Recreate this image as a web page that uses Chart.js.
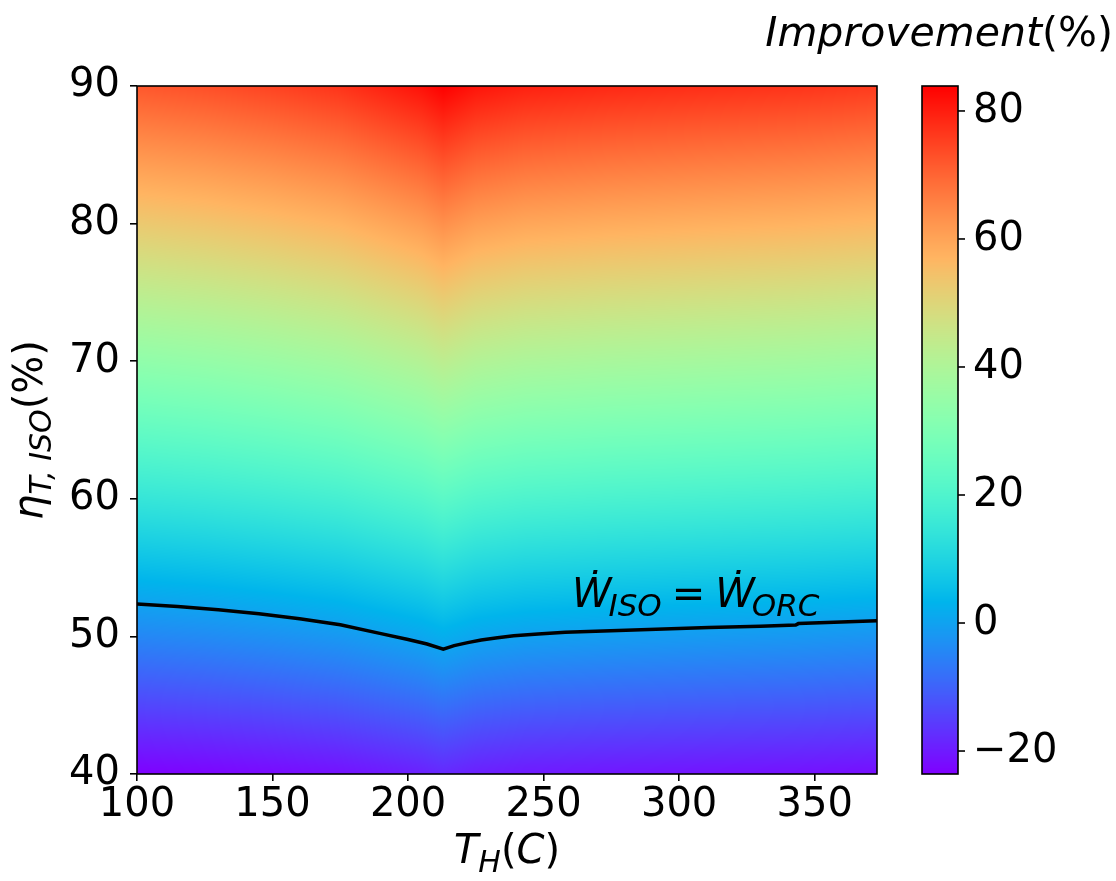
<!DOCTYPE html>
<html><head><meta charset="utf-8">
<script src="https://cdn.jsdelivr.net/npm/chart.js@4.4.0/dist/chart.umd.min.js"></script>
<style>html,body{margin:0;padding:0;background:#fff;}#wrap{width:1116px;height:881px;}</style>
</head><body><div id="wrap"><canvas id="c" width="1116" height="881"></canvas></div>
<script>
// ---- data ----
const tempNodes = [100,125,150,175,194,205,213,225,243,274,311,343,373];
const etaNodes  = [40,50,60,70,80,90];
const impr40 = [-23.59,-23.05,-22.28,-21.34,-20.05,-19.27,-18.27,-19.45,-20.18,-20.65,-21.04,-21.34,-21.78];
const impr50 = [-4.49,-3.81,-2.86,-1.67,-0.06,0.91,2.17,0.68,-0.22,-0.81,-1.30,-1.67,-2.23];
const impr60 = [14.61,15.43,16.57,17.99,19.93,21.09,22.60,20.82,19.74,19.02,18.44,17.99,17.33];
const impr70 = [33.72,34.67,36.00,37.66,39.92,41.27,43.03,40.96,39.69,38.86,38.18,37.66,36.89];
const impr80 = [52.82,53.91,55.43,57.33,59.90,61.45,63.47,61.10,59.65,58.70,57.92,57.33,56.44];
const impr90 = [71.92,73.14,74.86,76.99,79.89,81.63,83.90,81.23,79.61,78.54,77.66,76.99,75.99];
const contourT   = [100,115,130,145,160,175,190,200,207,213,217,222,227,233,239,248,258,272,286,311,330,343,344,373];
const contourEta = [52.35,52.17,51.93,51.65,51.28,50.84,50.2,49.78,49.45,49.08,49.33,49.55,49.74,49.9,50.05,50.18,50.3,50.4,50.48,50.64,50.74,50.82,50.93,51.14];
const xTicks  = [100,150,200,250,300,350];
const yTicks  = [40,50,60,70,80,90];
const cbTicks = [-20,0,20,40,60,80];

const imprRows = [impr40,impr50,impr60,impr70,impr80,impr90];
const allVals = imprRows.flat();
const cbMin = Math.min(...allVals), cbMax = Math.max(...allVals);

const FONT = '"DejaVu Sans", "Liberation Sans", sans-serif';

function rainbow(t){
  t = Math.max(0, Math.min(1, t));
  const r = Math.min(1, Math.abs(2*t - 0.5));
  const g = Math.sin(Math.PI*t);
  const b = Math.cos(Math.PI*t/2);
  return [Math.round(r*255), Math.round(g*255), Math.round(b*255)];
}
function seg(nodes, v){
  let i = 0;
  while (i < nodes.length - 2 && v > nodes[i+1]) i++;
  let f = (v - nodes[i])/(nodes[i+1]-nodes[i]);
  f = Math.max(0, Math.min(1, f));
  return [i, f];
}
function setFont(ctx, p){ ctx.font = (p.it ? 'italic ' : '') + p.size + 'px ' + FONT; }
function mathWidth(ctx, parts){
  let w = 0;
  for (const p of parts){ setFont(ctx,p); w += (p.pre||0) + ctx.measureText(p.t).width + (p.post||0); }
  return w;
}
function drawMath(ctx, parts, x, y){
  let cx = x;
  for (const p of parts){
    setFont(ctx,p); cx += (p.pre||0);
    ctx.fillText(p.t, cx, y + (p.dy||0));
    cx += ctx.measureText(p.t).width + (p.post||0);
  }
}

const heatmapPlugin = {
  id: 'heatmap',
  beforeDatasetsDraw(chart){
    const {ctx, chartArea: a, scales} = chart;
    const xs = scales.x, ys = scales.y, cb = scales.cb;
    const w = Math.round(a.right - a.left), h = Math.round(a.bottom - a.top);
    const off = document.createElement('canvas'); off.width = w; off.height = h;
    const octx = off.getContext('2d');
    const img = octx.createImageData(w, h);
    const colSeg = [];
    for (let px = 0; px < w; px++) colSeg.push(seg(tempNodes, xs.getValueForPixel(a.left + px + 0.5)));
    for (let py = 0; py < h; py++){
      const [j, ty] = seg(etaNodes, ys.getValueForPixel(a.top + py + 0.5));
      const r0 = imprRows[j], r1 = imprRows[j+1];
      for (let px = 0; px < w; px++){
        const [i, tx] = colSeg[px];
        const v0 = r0[i]*(1-tx) + r0[i+1]*tx;
        const v1 = r1[i]*(1-tx) + r1[i+1]*tx;
        const v = v0*(1-ty) + v1*ty;
        const c = rainbow((v - cb.min)/(cb.max - cb.min));
        const k = (py*w + px)*4;
        img.data[k] = c[0]; img.data[k+1] = c[1]; img.data[k+2] = c[2]; img.data[k+3] = 255;
      }
    }
    octx.putImageData(img, 0, 0);
    ctx.drawImage(off, a.left, a.top);
  },
  afterDatasetsDraw(chart){
    const {ctx, chartArea: a} = chart;
    ctx.save();
    ctx.strokeStyle = '#000'; ctx.lineWidth = 1.6;
    ctx.strokeRect(a.left, a.top, a.right - a.left, a.bottom - a.top);
    ctx.restore();
  },
  afterDraw(chart){
    const {ctx, chartArea: a, scales} = chart;
    const cb = scales.cb;
    ctx.save();
    // colorbar
    const x0 = 922, x1 = 958;
    for (let py = Math.floor(cb.top); py < cb.bottom; py++){
      const c = rainbow((cb.getValueForPixel(py + 0.5) - cb.min)/(cb.max - cb.min));
      ctx.fillStyle = 'rgb(' + c.join(',') + ')';
      ctx.fillRect(x0, py, x1 - x0, 1);
    }
    ctx.strokeStyle = '#000'; ctx.lineWidth = 1.6;
    ctx.strokeRect(x0, cb.top, x1 - x0, cb.bottom - cb.top);
    ctx.fillStyle = '#000';
    ctx.font = '40px ' + FONT; ctx.textAlign = 'left'; ctx.textBaseline = 'middle';
    for (const v of cbTicks){
      const p = cb.getPixelForValue(v);
      ctx.beginPath(); ctx.moveTo(x1, p); ctx.lineTo(x1 + 7, p); ctx.stroke();
      ctx.fillText(String(v).replace('-', '\u2212'), x1 + 15, p + 1);
    }
    // colorbar title
    ctx.textBaseline = 'alphabetic';
    const cbt = [{t:'Improvement', size:41, it:true}, {t:'(%)', size:41}];
    drawMath(ctx, cbt, 1113 - mathWidth(ctx, cbt), 46);
    // x axis title
    const xt = [{t:'T', size:40, it:true}, {t:'H', size:30, it:true, dy:9}, {t:'(', size:40}, {t:'C', size:40, it:true}, {t:')', size:40}];
    drawMath(ctx, xt, (a.left + a.right)/2 - mathWidth(ctx, xt)/2, 863);
    // y axis title
    const yt = [{t:'\u03B7', size:40, it:true}, {t:'T, ISO', size:30, it:true, dy:9}, {t:'(%)', size:40}];
    ctx.save();
    ctx.translate(42, (a.top + a.bottom)/2);
    ctx.rotate(-Math.PI/2);
    drawMath(ctx, yt, -mathWidth(ctx, yt)/2, 0);
    ctx.restore();
    // contour annotation
    const ann = [{t:'\u1E86', size:40, it:true}, {t:'ISO', size:31, it:true, dy:9, pre:-3},
                 {t:'=', size:40, pre:10, post:10},
                 {t:'\u1E86', size:40, it:true}, {t:'ORC', size:31, it:true, dy:9, pre:-3}];
    drawMath(ctx, ann, 572, 607);
    ctx.restore();
  }
};

const tickFont = {family: FONT, size: 40};
new Chart(document.getElementById('c'), {
  type: 'scatter',
  data: {
    datasets: [{
      data: contourT.map((t, i) => ({x: t, y: contourEta[i]})),
      showLine: true, borderColor: '#000', borderWidth: 3.5,
      pointRadius: 0, tension: 0, fill: false
    }]
  },
  options: {
    responsive: false, animation: false, devicePixelRatio: 1,
    layout: {padding: {left: 0, right: 239, top: 86, bottom: 0}},
    plugins: {legend: {display: false}, tooltip: {enabled: false}},
    scales: {
      x: {
        type: 'linear', min: 100, max: 373,
        afterBuildTicks: s => { s.ticks = xTicks.map(v => ({value: v})); },
        afterFit: s => { s.height = 107; },
        ticks: {font: tickFont, color: '#000', padding: 1, maxRotation: 0, autoSkip: false},
        grid: {drawOnChartArea: false, drawTicks: true, tickLength: 7, color: '#000', lineWidth: 1.6},
        border: {display: false}
      },
      y: {
        type: 'linear', min: 40, max: 90,
        afterBuildTicks: s => { s.ticks = yTicks.map(v => ({value: v})); },
        afterFit: s => { s.width = 137; },
        ticks: {font: tickFont, color: '#000', padding: 10, autoSkip: false},
        grid: {drawOnChartArea: false, drawTicks: true, tickLength: 7, color: '#000', lineWidth: 1.6},
        border: {display: false}
      },
      cb: {
        type: 'linear', position: 'right', display: false, min: cbMin, max: cbMax
      }
    }
  },
  plugins: [heatmapPlugin]
});
</script></body></html>
